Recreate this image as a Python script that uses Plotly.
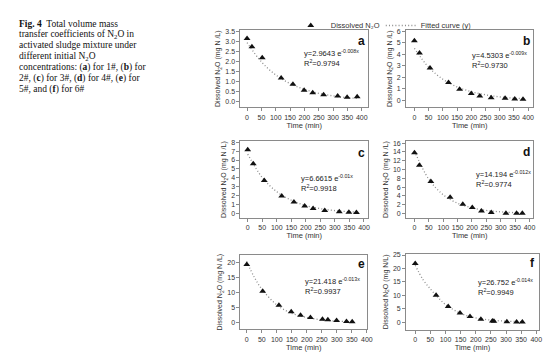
import plotly.graph_objects as go

# ---------------- data ----------------
panel_labels = ["a", "b", "c", "d", "e", "f"]

time_a = [0, 17, 53, 119, 160, 199, 229, 267, 316, 349, 384]
n2o_a = [3.17, 2.75, 2.19, 1.18, 0.86, 0.56, 0.43, 0.33, 0.27, 0.20, 0.23]
time_b = [0, 18, 55, 120, 159, 200, 230, 270, 319, 353, 382]
n2o_b = [5.19, 4.12, 2.82, 1.56, 0.97, 0.60, 0.37, 0.23, 0.17, 0.12, 0.09]
time_c = [0, 19, 57, 117, 159, 196, 225, 265, 315, 348, 374]
n2o_c = [7.15, 5.59, 3.70, 1.96, 1.30, 0.85, 0.56, 0.33, 0.19, 0.15, 0.11]
time_d = [0, 17, 57, 124, 168, 201, 233, 267, 318, 355, 375]
n2o_d = [13.8, 11.0, 7.3, 3.7, 2.1, 1.35, 0.6, 0.23, 0.08, 0.08, 0.08]
time_e = [0, 53, 107, 148, 179, 212, 252, 270, 299, 332, 351]
n2o_e = [19.2, 10.3, 5.7, 3.5, 2.4, 1.65, 1.0, 0.88, 0.66, 0.33, 0.22]
time_f = [0, 69, 109, 148, 181, 217, 255, 260, 303, 335, 354]
n2o_f = [21.8, 10.0, 5.9, 3.4, 2.1, 1.1, 0.5, 0.4, 0.15, 0.1, 0.1]

# fitted (dotted) curves
fit_t_a = [0, 50, 100, 150, 200, 250, 300, 350, 385]
fit_y_a = [2.96, 1.99, 1.33, 0.89, 0.60, 0.40, 0.27, 0.18, 0.14]
fit_t_b = [0, 50, 100, 150, 200, 250, 300, 350, 385]
fit_y_b = [4.53, 2.89, 1.84, 1.17, 0.75, 0.48, 0.30, 0.19, 0.14]
fit_t_c = [0, 50, 100, 150, 200, 250, 300, 350, 375]
fit_y_c = [6.66, 4.04, 2.45, 1.49, 0.90, 0.55, 0.33, 0.20, 0.16]
fit_t_d = [0, 50, 100, 150, 200, 250, 300, 350, 375]
fit_y_d = [14.19, 7.79, 4.27, 2.34, 1.29, 0.71, 0.39, 0.21, 0.16]
fit_t_e = [0, 25, 50, 100, 150, 200, 250, 300, 355]
fit_y_e = [20.2, 15.0, 11.1, 5.8, 3.0, 1.6, 0.83, 0.43, 0.22]
fit_t_f = [0, 25, 50, 75, 100, 150, 200, 250, 300, 355]
fit_y_f = [21.2, 16.0, 12.4, 9.3, 6.6, 3.3, 1.6, 0.8, 0.4, 0.2]

eq_coef = ["2.9643", "4.5303", "6.6615", "14.194", "21.418", "26.752"]
eq_exp = ["-0.008x", "-0.009x", "-0.01x", "-0.012x", "-0.013x", "-0.014x"]
r2_vals = ["0.9794", "0.9730", "0.9918", "0.9774", "0.9937", "0.9949"]
y_units = ["mg N /L", "mg N /L", "mg N /L", "mg N /L", "mg N /L", "mg N/L"]
y_dticks = [0.5, 1, 1, 2, 5, 5]
y_formats = [".1f", "d", "d", "d", "d", "d"]

times = [time_a, time_b, time_c, time_d, time_e, time_f]
vals = [n2o_a, n2o_b, n2o_c, n2o_d, n2o_e, n2o_f]
fit_ts = [fit_t_a, fit_t_b, fit_t_c, fit_t_d, fit_t_e, fit_t_f]
fit_ys = [fit_y_a, fit_y_b, fit_y_c, fit_y_d, fit_y_e, fit_y_f]

# ---------------- layout geometry ----------------
W, H = 554, 357
boxes = [
    (235, 364, 19.5, 97),
    (402.5, 531, 19.5, 97),
    (235, 364, 131.5, 208.5),
    (402.5, 531, 131.5, 208.5),
    (235, 363, 246, 321),
    (402.5, 536.5, 245, 321.5),
]
x_ranges = [[-23, 422], [-29, 418], [-25, 414], [-29, 413], [-21, 400.5], [-30, 408]]
y_ranges = [[-0.3, 3.58], [-0.6, 6.1], [-0.47, 8.09], [-0.95, 16.4], [-2.3, 22.4], [-2.8, 25.4]]
text_pos = [
    (357, 30, 297, 42, 52),
    (524, 30, 467, 44, 54.5),
    (357, 143, 294, 168, 178.5),
    (524, 142, 471, 164.5, 174),
    (357, 255, 298, 272, 282.5),
    (530, 254, 473, 273, 283),
]

AX_COLOR = "#8a8a8a"
TXT = "#333333"
SANS = "Liberation Sans, Arial, sans-serif"

fig = go.Figure()
annotations = []

for i in range(6):
    n = "" if i == 0 else str(i + 1)
    xa, ya = "x" + n, "y" + n
    fig.add_trace(go.Scatter(
        x=fit_ts[i], y=fit_ys[i], mode="lines", line_shape="spline",
        line=dict(color="#8c8c8c", width=1.3, dash="1px,2.2px"),
        name="Fitted curve (y)", showlegend=(i == 0), legendrank=2,
        xaxis=xa, yaxis=ya, hoverinfo="skip"))
    fig.add_trace(go.Scatter(
        x=times[i], y=vals[i], mode="markers",
        marker=dict(symbol="triangle-up", size=6, color="#111111"),
        name="Dissolved N\u2082O", showlegend=(i == 0), legendrank=1,
        xaxis=xa, yaxis=ya))

    l, r, t, b = boxes[i]
    common = dict(showgrid=False, zeroline=False, showline=True, mirror=True,
                  linecolor=AX_COLOR, linewidth=1, ticks="outside", ticklen=3,
                  tickcolor=AX_COLOR, tickwidth=1, tickangle=0,
                  tickfont=dict(family=SANS, size=7, color=TXT))
    fig.layout["xaxis" + n] = dict(
        common, domain=[l / W, r / W], range=x_ranges[i], dtick=50, tick0=0,
        anchor=ya, title=dict(text="Time (min)", standoff=2,
                              font=dict(family=SANS, size=7.5, color=TXT)))
    fig.layout["yaxis" + n] = dict(
        common, domain=[1 - b / H, 1 - t / H], range=y_ranges[i],
        dtick=y_dticks[i], tick0=0, anchor=xa, tickformat=y_formats[i],
        title=dict(text="Dissolved N<sub>2</sub>O (" + y_units[i] + ")", standoff=3,
                   font=dict(family=SANS, size=7, color=TXT)))

    lx, ly, ex, ey1, ey2 = text_pos[i]
    annotations.append(dict(
        text="<b>" + panel_labels[i] + "</b>", xref="paper", yref="paper",
        x=lx / W, y=1 - ly / H, xanchor="center", yanchor="middle", showarrow=False,
        font=dict(family=SANS, size=12, color="#111111")))
    annotations.append(dict(
        text="y=" + eq_coef[i] + " e<sup>" + eq_exp[i] + "</sup>",
        xref="paper", yref="paper", x=ex / W, y=1 - ey1 / H,
        xanchor="left", yanchor="middle", showarrow=False,
        font=dict(family=SANS, size=7.5, color="#222222")))
    annotations.append(dict(
        text="R<sup>2</sup>=" + r2_vals[i],
        xref="paper", yref="paper", x=ex / W, y=1 - ey2 / H,
        xanchor="left", yanchor="middle", showarrow=False,
        font=dict(family=SANS, size=7.5, color="#222222")))

caption_lines = [
    "<b>Fig. 4</b>  Total volume mass",
    "transfer coefficients of N<sub>2</sub>O in",
    "activated sludge mixture under",
    "different initial N<sub>2</sub>O",
    "concentrations: (<b>a</b>) for 1#, (<b>b</b>) for",
    "2#, (<b>c</b>) for 3#, (<b>d</b>) for 4#, (<b>e</b>) for",
    "5#, and (<b>f</b>) for 6#",
]
caption_y = [12.7, 23.6, 34.5, 45.6, 57.0, 68.0, 79.2]
for txt, yp in zip(caption_lines, caption_y):
    annotations.append(dict(
        text=txt, xref="paper", yref="paper", x=9 / W, y=1 - yp / H,
        xanchor="left", yanchor="middle", showarrow=False, align="left",
        font=dict(family="Liberation Serif, Times New Roman, serif", size=9.5,
                  color="#111111")))

fig.update_layout(
    width=W, height=H, margin=dict(l=0, r=0, t=0, b=0),
    paper_bgcolor="white", plot_bgcolor="white",
    annotations=annotations,
    legend=dict(orientation="h", x=0.516, y=1.0, xanchor="left", yanchor="top",
                itemwidth=30, entrywidth=45, entrywidthmode="pixels",
                font=dict(family=SANS, size=7.5, color=TXT),
                bgcolor="rgba(0,0,0,0)", tracegroupgap=0),
)

fig.write_html("out.html")
